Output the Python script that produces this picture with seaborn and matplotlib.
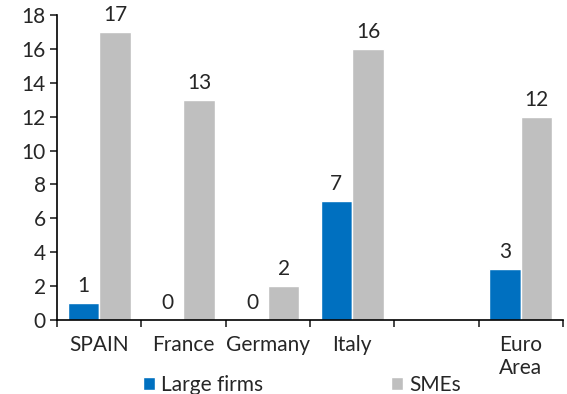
import numpy as np
import pandas as pd
import matplotlib
matplotlib.use("Agg")
import matplotlib.pyplot as plt
import seaborn as sns

# Data
categories = ["SPAIN", "France", "Germany", "Italy", " ", "Euro\nArea"]
large_firms = [1, 0, 0, 7, np.nan, 3]
smes = [17, 13, 2, 16, np.nan, 12]
series_names = ["Large firms", "SMEs"]
colors = ["#0070C0", "#BFBFBF"]
yticks = [0, 2, 4, 6, 8, 10, 12, 14, 16, 18]

sns.set_theme(style="white")
plt.rcParams["font.family"] = ["Lato", "DejaVu Sans"]
TXT = "#262626"
plt.rcParams["text.color"] = TXT
plt.rcParams["axes.labelcolor"] = TXT
plt.rcParams["xtick.color"] = TXT
plt.rcParams["ytick.color"] = TXT

FS = 15

df = pd.DataFrame({
    "category": categories * 2,
    "series": [series_names[0]] * len(categories) + [series_names[1]] * len(categories),
    "value": large_firms + smes,
})

fig = plt.figure(figsize=(5.67, 3.94), dpi=100)
ax = fig.add_axes([0.1005, 0.188, 0.8925, 0.774])

sns.barplot(data=df, x="category", y="value", hue="series", order=categories,
            hue_order=series_names, palette=colors, width=0.75, saturation=1,
            ax=ax, legend=True)

for container in ax.containers:
    labels = [f"{v:.0f}" for v in container.datavalues]
    ax.bar_label(container, labels=labels, padding=5, fontsize=FS, color=TXT)

ax.set_ylim(0, 18)
ax.set_yticks(yticks)
ax.set_xlim(-0.5, len(categories) - 0.5)
ax.set_xlabel("")
ax.set_ylabel("")
ax.tick_params(axis="y", labelsize=FS, length=5, width=1.2, direction="out", left=True, pad=3)
ax.tick_params(axis="x", which="major", labelsize=FS, length=0, pad=11)
ax.set_xticks(np.arange(-0.5, len(categories)), minor=True)
ax.tick_params(axis="x", which="minor", length=5, width=1.2, direction="out", bottom=True)

for side in ["top", "right"]:
    ax.spines[side].set_visible(False)
for side in ["left", "bottom"]:
    ax.spines[side].set_color("#000000")
    ax.spines[side].set_linewidth(1.2)

leg = ax.legend(loc="center", bbox_to_anchor=(0.484, -0.212), ncol=2, frameon=False,
                fontsize=FS, handlelength=0.6, handleheight=0.6, handletextpad=0.3,
                columnspacing=6.1, borderaxespad=0, borderpad=0)

fig.savefig("out.png", dpi=100)
